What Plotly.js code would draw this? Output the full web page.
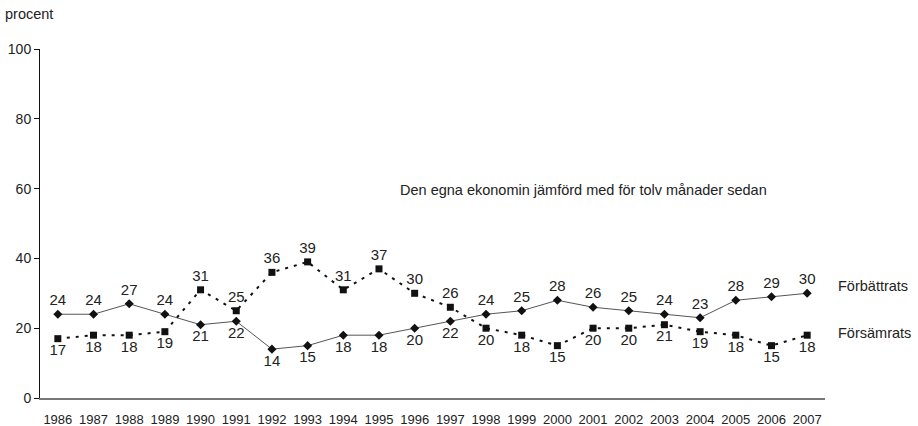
<!DOCTYPE html>
<html>
<head>
<meta charset="utf-8">
<script src="https://cdn.plot.ly/plotly-3.0.1.min.js"></script>
<style>html,body{margin:0;padding:0;background:#fff;}#chart{width:918px;height:426px;}</style>
</head>
<body>
<div id="chart"></div>
<script>
const years = ['1986','1987','1988','1989','1990','1991','1992','1993','1994','1995','1996','1997','1998','1999','2000','2001','2002','2003','2004','2005','2006','2007'];
const forbattrats = [24,24,27,24,21,22,14,15,18,18,20,22,24,25,28,26,25,24,23,28,29,30];
const forsamrats = [17,18,18,19,31,25,36,39,31,37,30,26,20,18,15,20,20,21,19,18,15,18];
const seriesNames = ['Förbättrats','Försämrats'];
const subtitle = 'Den egna ekonomin jämförd med för tolv månader sedan';
const yTitle = 'procent';

const posF = forbattrats.map((v,i)=> v >= forsamrats[i] ? 'top center' : 'bottom center');
const posS = forsamrats.map((v,i)=> v > forbattrats[i] ? 'top center' : 'bottom center');

const font = 'Liberation Sans, Arial, sans-serif';

const traces = [
  {
    x: years, y: forbattrats, type: 'scatter', mode: 'lines+markers+text',
    name: seriesNames[0],
    line: {color: '#555555', width: 1},
    marker: {symbol: 'diamond', size: 7, color: '#111111'},
    text: forbattrats.map(String), textposition: posF,
    textfont: {family: font, size: 15, color: '#222222'},
    cliponaxis: false
  },
  {
    x: years, y: forsamrats, type: 'scatter', mode: 'lines+markers+text',
    name: seriesNames[1],
    line: {color: '#111111', width: 2, dash: '3px,6px'},
    marker: {symbol: 'square', size: 7, color: '#111111'},
    text: forsamrats.map(String), textposition: posS,
    textfont: {family: font, size: 15, color: '#222222'},
    cliponaxis: false
  }
];

const layout = {
  width: 918, height: 426,
  margin: {l: 40, r: 93, t: 49, b: 28},
  paper_bgcolor: '#ffffff', plot_bgcolor: '#ffffff',
  showlegend: false,
  font: {family: font, color: '#222222'},
  xaxis: {
    type: 'category', range: [-0.5, 21.5],
    showgrid: false, zeroline: false,
    showline: true, linecolor: '#777777', linewidth: 1.5,
    ticks: '', tickfont: {family: font, size: 13, color: '#222222'},
    ticklabelstandoff: 9, fixedrange: true
  },
  yaxis: {
    range: [0, 100], tickvals: [0,20,40,60,80,100],
    showgrid: false, zeroline: false,
    showline: true, linecolor: '#111111', linewidth: 1,
    ticks: 'outside', ticklen: 5, tickcolor: '#111111',
    tickfont: {family: font, size: 14, color: '#222222'},
    fixedrange: true
  },
  annotations: [
    {text: yTitle, xref: 'paper', yref: 'paper', x: -37/785, y: 1 + 35/349, xanchor: 'left', yanchor: 'middle',
     showarrow: false, font: {family: font, size: 14.5, color: '#222222'}},
    {text: subtitle, xref: 'paper', yref: 'y', x: (583-40)/785, y: 59.5, xanchor: 'center', yanchor: 'middle',
     showarrow: false, font: {family: font, size: 14.5, color: '#222222'}},
    {text: seriesNames[0], xref: 'paper', yref: 'y', x: (836-40)/785, y: 32, xanchor: 'left', yanchor: 'middle',
     showarrow: false, font: {family: font, size: 14.5, color: '#222222'}},
    {text: seriesNames[1], xref: 'paper', yref: 'y', x: (836-40)/785, y: 18.5, xanchor: 'left', yanchor: 'middle',
     showarrow: false, font: {family: font, size: 14.5, color: '#222222'}}
  ]
};

Plotly.newPlot('chart', traces, layout, {displayModeBar: false, staticPlot: true});
</script>
</body>
</html>
